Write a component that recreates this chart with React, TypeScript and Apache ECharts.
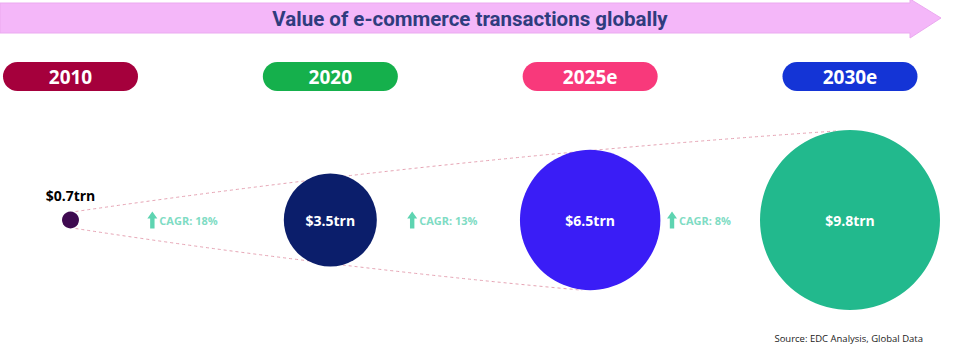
import React, { useEffect, useRef } from "react";
import * as echarts from "echarts";

const years = ["2010", "2020", "2025e", "2030e"];
const values = [0.7, 3.5, 6.5, 9.8]; // US$ trillion
const cagr = [18, 13, 8]; // % between consecutive years
const yearColors = ["#A5003C", "#15B04C", "#F8397B", "#1434D6"];
const circleColors = ["#3F0A50", "#0B1E6B", "#3A1DF6", "#22B98D"];
const titleText = "Value of e-commerce transactions globally";
const sourceText = "Source: EDC Analysis, Global Data";

const FONT = "'Open Sans', 'Noto Sans', sans-serif";
const diameter = (v: number) => 84 * Math.pow(v, 0.45) - 54.6;
const arrowPath = "path://M5,0 L10,6.5 L7.2,6.5 L7.2,16 L2.8,16 L2.8,6.5 L0,6.5 Z";

export default function App() {
  const ref = useRef<HTMLDivElement>(null);

  useEffect(() => {
    if (!ref.current) return;
    const chart = echarts.init(ref.current, null, { renderer: "svg" });

    const rich: Record<string, any> = {};
    years.forEach((_, i) => {
      rich["p" + i] = {
        backgroundColor: yearColors[i],
        color: "#ffffff",
        fontWeight: "bold",
        fontSize: 19,
        fontFamily: FONT,
        width: 135,
        height: 29,
        lineHeight: 29,
        borderRadius: 14.5,
        align: "center",
      };
    });

    chart.setOption({
      animation: false,
      grid: { left: 65, right: 124, top: 110, bottom: 21 },
      xAxis: {
        type: "value",
        min: 0,
        max: 3,
        interval: 1,
        position: "top",
        axisLine: { show: false },
        axisTick: { show: false },
        splitLine: { show: false },
        axisLabel: {
          margin: 19,
          showMinLabel: true,
          showMaxLabel: true,
          formatter: (v: number) => `{p${v}|${years[v]}}`,
          rich,
        },
      },
      yAxis: { type: "value", min: -1, max: 1, show: false },
      series: [
        {
          type: "scatter",
          name: "Value",
          z: 3,
          symbol: "circle",
          symbolSize: (_v: any, params: any) => diameter(values[params.dataIndex]),
          data: values.map((v, i) => ({
            value: [i, 0],
            itemStyle: { color: circleColors[i], opacity: 1 },
            label:
              i === 0
                ? { position: "top", distance: 9, color: "#000000" }
                : { position: "inside", color: "#ffffff" },
          })),
          itemStyle: { opacity: 1 },
          emphasis: { disabled: true },
          label: {
            show: true,
            fontFamily: FONT,
            fontWeight: "bold",
            fontSize: 14,
            formatter: (p: any) => `$${values[p.dataIndex]}trn`,
          },
        },
        {
          type: "scatter",
          name: "CAGR",
          z: 3,
          symbol: arrowPath,
          symbolSize: [10, 17],
          itemStyle: { color: "#5ED4B1", opacity: 1 },
          emphasis: { disabled: true },
          data: cagr.map((_, i) => [i + 0.315, 0]),
          label: {
            show: true,
            position: "right",
            distance: 2,
            color: "#7FDCC4",
            fontFamily: FONT,
            fontWeight: "bold",
            fontSize: 11,
            formatter: (p: any) => `CAGR: ${cagr[p.dataIndex]}%`,
          },
        },
      ],
    });

    const px = (i: number) => chart.convertToPixel({ gridIndex: 0 }, [i, 0]) as number[];
    const c0 = px(0);
    const c2 = px(2);
    const c3 = px(3);
    const r0 = diameter(values[0]) / 2;
    const r2 = diameter(values[2]) / 2;
    const r3 = diameter(values[3]) / 2;

    const curve = (s: number[], e: number[], fx: number, fy: number) => ({
      x1: s[0],
      y1: s[1],
      x2: e[0],
      y2: e[1],
      cpx1: s[0] + fx * (e[0] - s[0]),
      cpy1: s[1] + fy * (e[1] - s[1]),
    });
    const dashStyle = { stroke: "#E6A4B4", lineWidth: 1, lineDash: [3, 3], fill: "none" };

    chart.setOption({
      graphic: [
        {
          type: "polygon",
          z: 0,
          shape: {
            points: [
              [0, 3],
              [910, 3],
              [910, -1],
              [941, 18],
              [910, 38],
              [910, 33],
              [0, 33],
            ],
          },
          style: { fill: "#F4B7F9", stroke: "#EBAAF0", lineWidth: 1 },
        },
        {
          type: "text",
          z: 1,
          x: 470,
          y: 19,
          style: {
            text: titleText,
            align: "center",
            verticalAlign: "middle",
            fill: "#2F3C7E",
            font: "bold 20.5px Roboto, 'Open Sans', sans-serif",
          },
        },
        {
          type: "bezierCurve",
          z: 0,
          shape: curve([c0[0] + 5, c0[1] - r0], [c3[0] - 14, c3[1] - r3 + 1], 0.485, 0.669),
          style: dashStyle,
        },
        {
          type: "bezierCurve",
          z: 0,
          shape: curve([c0[0] + 5, c0[1] + r0], [c2[0] - 8, c2[1] + r2], 0.47, 0.6),
          style: dashStyle,
        },
        {
          type: "text",
          z: 1,
          x: 923,
          y: 338,
          style: {
            text: sourceText,
            align: "right",
            verticalAlign: "middle",
            fill: "#222222",
            font: "9.5px 'Open Sans', sans-serif",
          },
        },
      ],
    });

    return () => chart.dispose();
  }, []);

  return (
    <div
      ref={ref}
      style={{ position: "absolute", left: 0, top: 0, width: 974, height: 351, background: "#ffffff" }}
    />
  );
}
